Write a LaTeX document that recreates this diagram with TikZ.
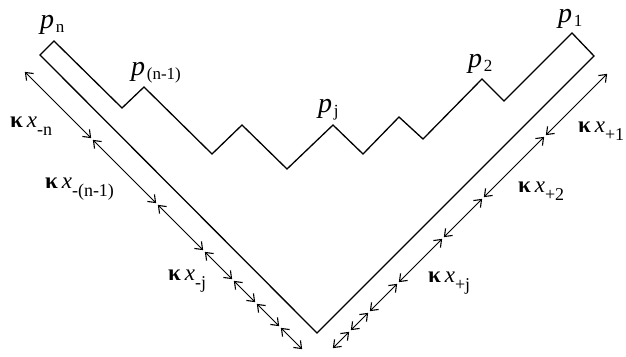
\documentclass[tikz,border=0pt]{standalone}
\usepackage{fontspec}
\setmainfont{Liberation Serif}
\usetikzlibrary{arrows.meta}
\newcommand\kxl[1]{{\fontsize{23}{23}\selectfont\textbf{κ}\,\textit{x}}\raisebox{-8pt}{\fontsize{18}{18}\selectfont #1}}
\newcommand\pl[1]{{\fontsize{28}{28}\selectfont\textit{p}}\,\raisebox{-4pt}{\fontsize{17}{17}\selectfont #1}}
\tikzset{
  outline/.style={line width=1.3pt, line join=miter},
  seg/.style={line width=1pt, {Straight Barb[length=6.5pt,width=10pt,line width=1.1pt]}-{Straight Barb[length=6.5pt,width=10pt,line width=1.1pt]}, shorten <=1.2pt, shorten >=1.2pt},
  lbl/.style={inner sep=0pt, anchor=base west}
}
\begin{document}
\begin{tikzpicture}[x=1pt,y=-1pt]
\useasboundingbox (0,0) rectangle (626,356);
% zigzag outline
\draw[outline] (40,55) -- (54,41) -- (122,108) -- (144,87) -- (212,154) -- (242,125)
  -- (287,169) -- (333,125) -- (363,154) -- (399,117) -- (423,139) -- (482,79)
  -- (504,101) -- (572,33) -- (594,56) -- (317,333) -- cycle;
% left arrow chain (line y = x + 47)
\coordinate (L0) at (24,71);
\coordinate (L1) at (92,139);
\coordinate (L2) at (157,204);
\coordinate (L3) at (204,251);
\coordinate (L4) at (233,280);
\coordinate (L5) at (256,303);
\coordinate (L6) at (280,327);
\coordinate (L7) at (303,350);
\foreach \a/\b in {L0/L1,L1/L2,L2/L3,L3/L4,L4/L5,L5/L6,L6/L7}
  \draw[seg] (\a) -- (\b);
% right arrow chain (line x + y = 681)
\coordinate (R0) at (608,73);
\coordinate (R1) at (545,136);
\coordinate (R2) at (483,198);
\coordinate (R3) at (443,238);
\coordinate (R4) at (398,283);
\coordinate (R5) at (369,312);
\coordinate (R6) at (350,331);
\coordinate (R7) at (332,349);
\foreach \a/\b in {R0/R1,R1/R2,R2/R3,R3/R4,R4/R5,R5/R6,R6/R7}
  \draw[seg] (\a) -- (\b);
% labels
\node[lbl] (pn) at (40,28) {\pl{n}};
\node[lbl] (pn1) at (131,75) {\pl{(n-1)}};
\node[lbl] (pj) at (318,112) {\pl{j}};
\node[lbl] (p2) at (468,67) {\pl{2}};
\node[lbl] (p1) at (558,22) {\pl{1}};
\node[lbl] (kn) at (10,127) {\kxl{-n}};
\node[lbl] (kn1) at (45,188) {\kxl{-(n-1)}};
\node[lbl] (kj) at (168,280) {\kxl{-j}};
\node[lbl] (k1) at (578,132) {\kxl{+1}};
\node[lbl] (k2) at (518,192) {\kxl{+2}};
\node[lbl] (kpj) at (428,282) {\kxl{+j}};
\end{tikzpicture}
\end{document}
